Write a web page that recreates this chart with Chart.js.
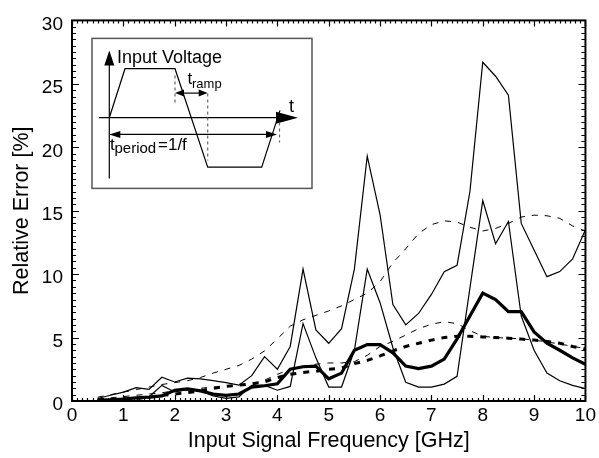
<!DOCTYPE html>
<html>
<head>
<meta charset="utf-8">
<script src="https://cdn.jsdelivr.net/npm/chart.js@4"></script>
<style>
  html, body { margin: 0; padding: 0; background: #fff; }
</style>
</head>
<body>
<canvas id="errChart" width="599" height="458"></canvas>
<script>
// input signal frequency [GHz]
let freq = [0.5, 0.75, 1, 1.25, 1.5, 1.75, 2, 2.25, 2.5, 2.75, 3, 3.25, 3.5, 3.75, 4, 4.25, 4.5, 4.75, 5,
    5.25, 5.5, 5.75, 6, 6.25, 6.5, 6.75, 7, 7.25, 7.5, 7.75, 8, 8.25, 8.5, 8.75, 9, 9.25, 9.5, 9.75, 10];

// relative error [%], solid curves
let solidHigh = [0.2, 0.45, 0.7, 1.05, 0.92, 1.87, 1.5, 1.8, 1.75, 1.6, 1.45, 1.25, 2.0, 3.5, 2.5, 4.3, 10.4, 5.6, 4.55,
    5.7, 10.4, 19.3, 14.7, 7.6, 6.0, 6.9, 8.4, 10.2, 10.7, 16.5, 26.7, 25.6, 24.1, 14.0, 11.9, 9.8, 10.2, 11.2, 13.5];
let solidLow = [0.13, 0.15, 0.2, 0.25, 0.33, 1.23, 0.71, 0.9, 0.8, 0.4, 0.2, 0.33, 1.23, 1.23, 0.85, 1.15, 6.1, 3.4, 1.1,
    1.1, 4.0, 10.4, 7.75, 4.2, 1.48, 1.1, 1.1, 1.33, 1.95, 8.9, 15.8, 12.4, 14.15, 6.7, 4.0, 2.2, 1.6, 1.23, 0.97];
let solidMean = [0.05, 0.1, 0.15, 0.25, 0.3, 0.4, 0.85, 0.95, 0.8, 0.55, 0.45, 0.55, 1.1, 1.2, 1.35, 2.5, 2.7, 2.75, 1.75,
    2.2, 4.0, 4.45, 4.45, 3.8, 2.75, 2.55, 2.75, 3.3, 4.9, 6.7, 8.5, 8.0, 7.05, 7.05, 5.45, 4.55, 4.0, 3.4, 2.9];

// relative error [%], dashed curves
let dashHigh = [0.3, 0.5, 0.7, 0.9, 1.1, 1.3, 1.45, 1.6, 1.85, 2.2, 2.5, 2.8, 3.3, 3.95, 4.9, 5.9, 6.4, 6.75, 7.1,
    7.5, 8.0, 8.5, 9.4, 10.9, 12.0, 13.2, 13.9, 14.2, 14.1, 13.7, 13.4, 13.6, 14.0, 14.5, 14.65, 14.6, 14.4, 13.8, 13.4];
let dashLow = [0.15, 0.25, 0.35, 0.45, 0.55, 0.65, 0.8, 0.9, 1.0, 1.1, 1.15, 1.2, 1.3, 1.65, 2.1, 2.5, 2.75, 2.9, 3.0,
    3.0, 3.1, 3.6, 4.3, 4.7, 5.2, 5.7, 6.05, 6.25, 6.1, 5.55, 5.1, 5.0, 4.95, 4.9, 4.8, 4.65, 4.5, 4.3, 4.15];
let dashMean = [0.05, 0.1, 0.15, 0.2, 0.3, 0.45, 0.55, 0.65, 0.8, 1.0, 1.15, 1.25, 1.35, 1.5, 1.85, 2.1, 2.25, 2.35, 2.5,
    2.6, 2.95, 3.2, 3.55, 3.95, 4.3, 4.55, 4.8, 5.0, 5.1, 5.1, 5.05, 5.0, 4.95, 4.88, 4.8, 4.7, 4.55, 4.3, 4.1];

// axis ticks
let xTicks = [0, 1, 2, 3, 4, 5, 6, 7, 8, 9, 10];
let yTicks = [0, 5, 10, 15, 20, 25, 30];

const fontFam = '"Liberation Sans", Arial, Helvetica, sans-serif';

function pts(arr) {
    return freq.map((f, i) => ({x: f, y: arr[i]}));
}

function line(width, dash) {
    return {borderColor: '#000', borderWidth: width, borderDash: dash, pointRadius: 0, tension: 0, fill: false};
}

function arrowHead(ctx, tx, ty, dx, dy, len, half) {
    const bx = tx - dx * len, by = ty - dy * len;
    ctx.beginPath();
    ctx.moveTo(tx, ty);
    ctx.lineTo(bx - dy * half, by + dx * half);
    ctx.lineTo(bx + dy * half, by - dx * half);
    ctx.closePath();
    ctx.fill();
}

function seg(ctx, x1, y1, x2, y2) {
    ctx.beginPath();
    ctx.moveTo(x1, y1);
    ctx.lineTo(x2, y2);
    ctx.stroke();
}

// frame with inward ticks on all four sides
const frameTicks = {
    id: 'frameTicks',
    afterDatasetsDraw(chart) {
        const {ctx, chartArea: a, scales: {x, y}} = chart;
        ctx.save();
        ctx.strokeStyle = '#000';
        ctx.lineWidth = 1.2;
        ctx.beginPath();
        for (let i = 0; i <= 100; i++) {
            const px = Math.round(x.getPixelForValue(i / 10)) + 0.5;
            const len = i % 10 === 0 ? 6 : 3;
            ctx.moveTo(px, a.bottom); ctx.lineTo(px, a.bottom - len);
            ctx.moveTo(px, a.top); ctx.lineTo(px, a.top + len);
        }
        for (let j = 0; j <= 60; j++) {
            const py = Math.round(y.getPixelForValue(j / 2)) + 0.5;
            const len = j % 10 === 0 ? 7 : 4;
            ctx.moveTo(a.left, py); ctx.lineTo(a.left + len, py);
            ctx.moveTo(a.right, py); ctx.lineTo(a.right - len, py);
        }
        ctx.stroke();
        ctx.lineWidth = 2;
        ctx.strokeRect(a.left, a.top, a.width, a.height);
        ctx.restore();
    }
};

// inset sketch of the input waveform
const inset = {
    id: 'inset',
    afterDraw(chart) {
        const ctx = chart.ctx;
        const a = chart.chartArea;
        ctx.save();
        ctx.translate(a.left + 20, a.top + 18);
        ctx.fillStyle = '#fff';
        ctx.fillRect(0, 0, 220, 150);
        ctx.strokeStyle = '#555';
        ctx.lineWidth = 1.5;
        ctx.strokeRect(0, 0, 220, 150);

        ctx.strokeStyle = '#000';
        ctx.fillStyle = '#000';
        ctx.lineWidth = 1.2;
        // axes
        seg(ctx, 17.3, 140, 17.3, 24);
        arrowHead(ctx, 17.3, 12, 0, -1, 15, 5);
        seg(ctx, 7, 79.3, 188, 79.3);
        arrowHead(ctx, 206, 79.3, 1, 0, 22, 6);

        // trapezoid
        ctx.beginPath();
        ctx.moveTo(17.3, 79.3);
        ctx.lineTo(33, 30.3);
        ctx.lineTo(83, 30.3);
        ctx.lineTo(115.7, 128.7);
        ctx.lineTo(169.7, 128.7);
        ctx.lineTo(188, 72);
        ctx.stroke();

        // dashed markers
        ctx.strokeStyle = '#666';
        ctx.setLineDash([3, 3]);
        seg(ctx, 83, 37, 83, 64);
        seg(ctx, 115.7, 55, 115.7, 122);
        seg(ctx, 187.5, 84, 187.5, 104);
        ctx.setLineDash([]);

        // t_ramp arrow
        ctx.strokeStyle = '#000';
        seg(ctx, 90, 54.7, 108, 54.7);
        arrowHead(ctx, 83, 54.7, -1, 0, 9, 3.5);
        arrowHead(ctx, 115.7, 54.7, 1, 0, 9, 3.5);
        // t_period arrow
        seg(ctx, 26, 96, 176, 96);
        arrowHead(ctx, 17.3, 96, -1, 0, 11, 3.5);
        arrowHead(ctx, 185, 96, 1, 0, 11, 3.5);

        // labels
        ctx.textBaseline = 'alphabetic';
        ctx.textAlign = 'left';
        ctx.font = '18px ' + fontFam;
        ctx.fillText('Input Voltage', 25, 25);
        ctx.fillText('t', 197, 74);
        ctx.font = '17px ' + fontFam;
        ctx.fillText('t', 95.5, 46);
        ctx.fillText('t', 18, 112);
        ctx.fillText('=1/f', 66, 112);
        ctx.font = '13px ' + fontFam;
        ctx.fillText('ramp', 100, 49.5);
        ctx.font = '15px ' + fontFam;
        ctx.fillText('period', 22.5, 115);
        ctx.restore();
    }
};

let chart = new Chart(document.getElementById('errChart').getContext('2d'), {
    type: 'line',
    data: {
        datasets: [
            Object.assign({data: pts(solidHigh)}, line(1.2, [])),
            Object.assign({data: pts(solidLow)}, line(1.2, [])),
            Object.assign({data: pts(dashHigh)}, line(1, [6, 7])),
            Object.assign({data: pts(dashLow)}, line(1, [6, 7])),
            Object.assign({data: pts(dashMean)}, line(3, [6, 7])),
            Object.assign({data: pts(solidMean)}, line(3.2, []))
        ]
    },
    options: {
        responsive: false,
        animation: false,
        devicePixelRatio: 1,
        layout: {padding: {left: 0, right: 13, top: 10, bottom: 0}},
        plugins: {legend: {display: false}, tooltip: {enabled: false}},
        scales: {
            x: {
                type: 'linear',
                min: 0,
                max: 10,
                afterBuildTicks: (s) => { s.ticks = xTicks.map(v => ({value: v})); },
                afterFit: (s) => { s.height = 57; },
                grid: {display: false, drawTicks: false},
                border: {display: false},
                ticks: {color: '#000', padding: 3, maxRotation: 0, font: {family: fontFam, size: 19}},
                title: {display: true, text: 'Input Signal Frequency [GHz]', color: '#000',
                    padding: {top: 0, bottom: 4}, font: {family: fontFam, size: 21.5}}
            },
            y: {
                min: 0,
                max: 30,
                afterBuildTicks: (s) => { s.ticks = yTicks.map(v => ({value: v})); },
                afterFit: (s) => { s.width = 72; },
                grid: {display: false, drawTicks: false},
                border: {display: false},
                ticks: {color: '#000', padding: 9, labelOffset: 4, font: {family: fontFam, size: 19}},
                title: {display: true, text: 'Relative Error [%]', color: '#000',
                    padding: {top: 9, bottom: 0}, font: {family: fontFam, size: 21.5}}
            }
        }
    },
    plugins: [frameTicks, inset]
});
</script>
</body>
</html>
